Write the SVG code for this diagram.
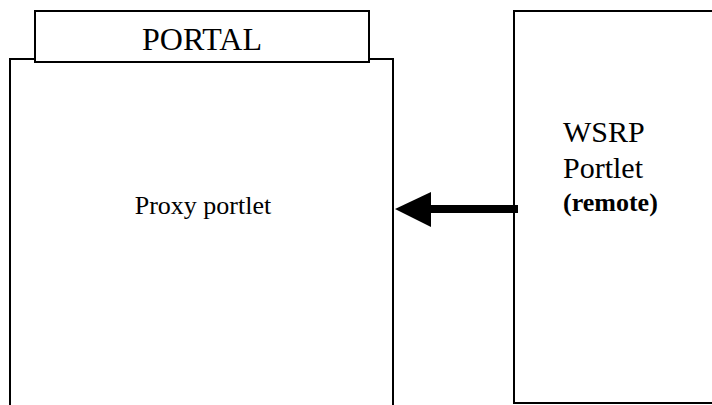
<svg xmlns="http://www.w3.org/2000/svg" width="712" height="405" viewBox="0 0 712 405">
<style>
.box{fill:#fff;stroke:#000;stroke-width:2}
.t{font-family:"Liberation Serif","Times New Roman",serif;fill:#000}
</style>
<rect width="712" height="405" fill="#fff"/>
<g id="portal">
<path class="box" d="M10,406 V59 H393 V406"/>
<rect class="box" x="35" y="11" width="334" height="51"/>
<text class="t" x="202" y="50" font-size="32" text-anchor="middle">PORTAL</text>
<text class="t" x="203" y="214" font-size="26" text-anchor="middle">Proxy portlet</text>
</g>
<g id="wsrp">
<rect class="box" x="514" y="11" width="210" height="392"/>
<text class="t" x="563" y="142" font-size="30">WSRP</text>
<text class="t" x="563" y="178" font-size="30">Portlet</text>
<text class="t" x="563" y="211" font-size="26" font-weight="bold">(remote)</text>
</g>
<g id="connectors">
<rect x="429" y="205" width="89" height="8" fill="#000"/>
<polygon points="395,209 431,192 431,227" fill="#000"/>
</g>
</svg>
